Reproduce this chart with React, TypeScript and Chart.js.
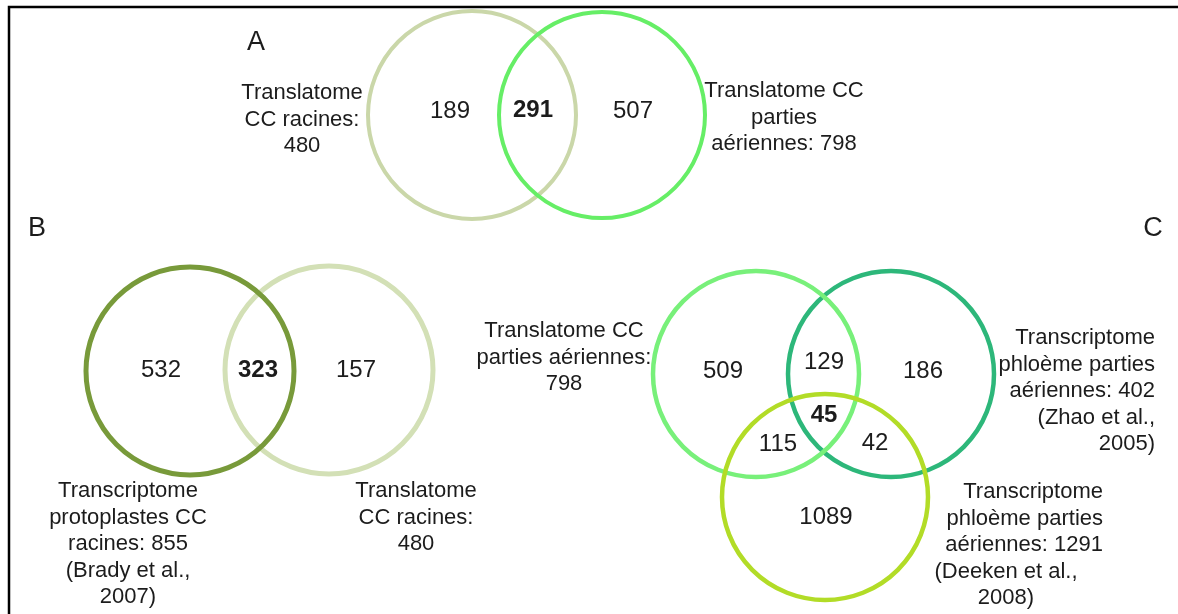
import React, { useEffect, useRef } from "react";
import { Chart, registerables } from "chart.js";

Chart.register(...registerables);

// ---------- DATA ----------
// Panel A: two sets
const panelA_setLabels = [
  ["Translatome", "CC racines:", "480"],
  ["Translatome CC", "parties", "aériennes: 798"],
];
const panelA_counts = [189, 291, 507]; // only left, both, only right
const panelA_centersX = [472, 602];
const panelA_centersY = [115, 115];
const panelA_radii = [104, 103];
const panelA_colors = ["#cad7a9", "#66ee66"];

// Panel B: two sets
const panelB_setLabels = [
  ["Transcriptome", "protoplastes CC", "racines: 855", "(Brady et al.,", "2007)"],
  ["Translatome", "CC racines:", "480"],
];
const panelB_counts = [532, 323, 157];
const panelB_centersX = [190, 329];
const panelB_centersY = [371, 370];
const panelB_radii = [104, 104];
const panelB_colors = ["#789a3a", "#d3e0b6"];

// Panel C: three sets
const panelC_setLabels = [
  ["Translatome CC", "parties aériennes:", "798"],
  ["Transcriptome", "phloème parties", "aériennes: 402", "(Zhao et al.,", "2005)"],
  ["Transcriptome", "phloème parties", "aériennes: 1291", "(Deeken et al.,", "2008)"],
];
// order: only1, 1&2, only2, 1&2&3, 1&3, 2&3, only3
const panelC_counts = [509, 129, 186, 45, 115, 42, 1089];
const panelC_centersX = [756, 891, 825];
const panelC_centersY = [374, 374, 497];
const panelC_radii = [103, 103, 103];
const panelC_colors = ["#78f07a", "#2db77a", "#b2dc27"];

const panelLetters = ["A", "B", "C"];

// ---------- LAYOUT (text positions in chart units) ----------
const FONT = "'Liberation Sans', Arial, Helvetica, sans-serif";
const TEXT = "#1c1c1c";

type Lbl = { t: string; x: number; y: number; size: number; bold?: boolean; align?: CanvasTextAlign };

function buildLabels(): Lbl[] {
  const L: Lbl[] = [];
  const num = 24;
  const lab = 22;
  const lh = 26.5;
  // panel letters
  L.push({ t: panelLetters[0], x: 256, y: 43, size: 27 });
  L.push({ t: panelLetters[1], x: 37, y: 229, size: 27 });
  L.push({ t: panelLetters[2], x: 1153, y: 229, size: 27 });

  // A counts
  const aPos = [[450, 111], [533, 110], [633, 111]];
  panelA_counts.forEach((c, i) =>
    L.push({ t: String(c), x: aPos[i][0], y: aPos[i][1], size: num, bold: i === 1 })
  );
  panelA_setLabels[0].forEach((s, i) => L.push({ t: s, x: 302, y: 93 + i * lh, size: lab }));
  panelA_setLabels[1].forEach((s, i) => L.push({ t: s, x: 784, y: 91 + i * lh, size: lab }));

  // B counts
  const bPos = [[161, 370], [258, 370], [356, 370]];
  panelB_counts.forEach((c, i) =>
    L.push({ t: String(c), x: bPos[i][0], y: bPos[i][1], size: num, bold: i === 1 })
  );
  panelB_setLabels[0].forEach((s, i) => L.push({ t: s, x: 128, y: 491 + i * lh, size: lab }));
  panelB_setLabels[1].forEach((s, i) => L.push({ t: s, x: 416, y: 491 + i * lh, size: lab }));

  // C counts
  const cPos = [[723, 371], [824, 362], [923, 371], [824, 415], [778, 444], [875, 443], [826, 517]];
  panelC_counts.forEach((c, i) =>
    L.push({ t: String(c), x: cPos[i][0], y: cPos[i][1], size: num, bold: i === 3 })
  );
  panelC_setLabels[0].forEach((s, i) => L.push({ t: s, x: 564, y: 331 + i * lh, size: lab }));
  panelC_setLabels[1].forEach((s, i) =>
    L.push({ t: s, x: 1155, y: 338 + i * lh, size: lab, align: "right" })
  );
  panelC_setLabels[2].forEach((s, i) => {
    if (i < 3) L.push({ t: s, x: 1103, y: 492 + i * lh, size: lab, align: "right" });
    else L.push({ t: s, x: 1006, y: 492 + i * lh, size: lab });
  });
  return L;
}

const textPlugin = {
  id: "vennText",
  beforeDatasetsDraw(chart: any) {
    const ctx = chart.ctx as CanvasRenderingContext2D;
    const xs = chart.scales.x;
    const ys = chart.scales.y;
    ctx.save();
    ctx.strokeStyle = "#000";
    ctx.lineWidth = 2.5;
    ctx.beginPath();
    ctx.moveTo(xs.getPixelForValue(9), ys.getPixelForValue(614));
    ctx.lineTo(xs.getPixelForValue(9), ys.getPixelForValue(7));
    ctx.lineTo(xs.getPixelForValue(1178), ys.getPixelForValue(7));
    ctx.stroke();
    ctx.restore();
  },
  afterDatasetsDraw(chart: any) {
    const ctx = chart.ctx as CanvasRenderingContext2D;
    const xs = chart.scales.x;
    const ys = chart.scales.y;
    ctx.save();
    ctx.fillStyle = TEXT;
    ctx.textBaseline = "middle";
    for (const l of buildLabels()) {
      ctx.font = `${l.bold ? "bold " : ""}${l.size}px ${FONT}`;
      ctx.textAlign = l.align || "center";
      ctx.fillText(l.t, xs.getPixelForValue(l.x), ys.getPixelForValue(l.y));
    }
    ctx.restore();
  },
};

function circleDataset(xsArr: number[], ysArr: number[], radii: number[], colors: string[], width: number) {
  return {
    type: "scatter" as const,
    data: xsArr.map((x, i) => ({ x, y: ysArr[i] })),
    pointRadius: radii,
    pointHoverRadius: radii,
    pointBorderColor: colors,
    pointBackgroundColor: "rgba(0,0,0,0)",
    pointBorderWidth: width,
    pointHoverBorderWidth: width,
    showLine: false,
    clip: false as any,
  };
}

export default function App() {
  const ref = useRef<HTMLCanvasElement | null>(null);
  useEffect(() => {
    if (!ref.current) return;
    const chart = new Chart(ref.current, {
      type: "scatter",
      data: {
        datasets: [
          circleDataset(panelA_centersX, panelA_centersY, panelA_radii, panelA_colors, 4),
          circleDataset(
            [...panelB_centersX].reverse(),
            [...panelB_centersY].reverse(),
            [...panelB_radii].reverse(),
            [...panelB_colors].reverse(),
            5
          ),
          circleDataset(
            [panelC_centersX[1], panelC_centersX[0], panelC_centersX[2]],
            [panelC_centersY[1], panelC_centersY[0], panelC_centersY[2]],
            [panelC_radii[1], panelC_radii[0], panelC_radii[2]],
            [panelC_colors[1], panelC_colors[0], panelC_colors[2]],
            4.5
          ),
        ],
      },
      options: {
        animation: false,
        responsive: false,
        maintainAspectRatio: false,
        layout: { padding: 0, autoPadding: false },
        events: [],
        plugins: { legend: { display: false }, tooltip: { enabled: false } },
        scales: {
          x: { type: "linear", min: 0, max: 1178, display: false },
          y: { type: "linear", min: 0, max: 614, reverse: true, display: false },
        },
      },
      plugins: [textPlugin],
    });
    return () => chart.destroy();
  }, []);
  return (
    <div style={{ position: "fixed", left: 0, top: 0, width: 1178, height: 614, background: "#fff" }}>
      <canvas ref={ref} width={1178} height={614} style={{ width: 1178, height: 614, display: "block" }} />
    </div>
  );
}
